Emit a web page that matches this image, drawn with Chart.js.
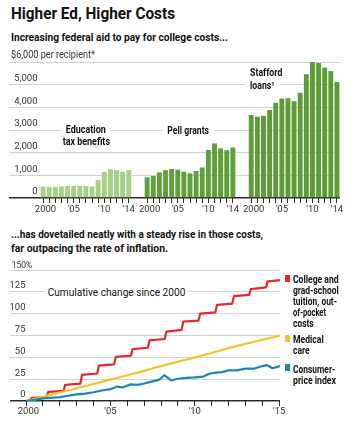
<!DOCTYPE html>
<html><head><meta charset="utf-8">
<title>Higher Ed, Higher Costs</title>
<script src="https://cdn.jsdelivr.net/npm/chart.js@4.4.1/dist/chart.umd.min.js"></script>
<style>
html,body{margin:0;padding:0;background:#fff}
body{width:353px;height:425px;position:relative;overflow:hidden;color:#111;font-family:Roboto,sans-serif}
.t{position:absolute;white-space:nowrap;line-height:1;transform-origin:0 0}
.sw{position:absolute;width:4.5px;height:6.5px}
canvas{position:absolute;left:0}
</style></head><body>
<div class="t" data-x="11" data-b="18.3" data-w="164" style="font:bold 16.5px Roboto">Higher Ed, Higher Costs</div>
<div class="t" data-x="11" data-b="40" data-w="217" style="font:bold 11.5px Roboto">Increasing federal aid to pay for college costs...</div>
<canvas id="aid" width="353" height="170" style="top:50px"></canvas>
<div class="t" data-x="11" data-b="236.7" data-w="252" style="font:bold 11.5px Roboto">...has dovetailed neatly with a steady rise in those costs,</div>
<div class="t" data-x="11" data-b="250.7" data-w="157" style="font:bold 11.5px Roboto">far outpacing the rate of inflation.</div>
<canvas id="costs" width="353" height="170" style="top:255px"></canvas>
<div class="t" data-x="45" data-b="295" data-w="143" style="font:11.5px Roboto;background:#fff;padding:1px 3px">Cumulative change since 2000</div>
<div class="sw" style="left:285px;top:275px;background:#e7262d"></div>
<div class="sw" style="left:285px;top:335px;background:#f3c22f"></div>
<div class="sw" style="left:285px;top:364px;background:#1b87b8"></div>
<div class="t" data-x="292.7" data-b="282.3" data-w="45.6" style="font:bold 10.5px Roboto">College and</div>
<div class="t" data-x="292.7" data-b="293.3" data-w="45.7" style="font:bold 10.5px Roboto">grad-school</div>
<div class="t" data-x="292.7" data-b="304.3" data-w="44" style="font:bold 10.5px Roboto">tuition, out-</div>
<div class="t" data-x="292.7" data-b="315.3" data-w="33" style="font:bold 10.5px Roboto">of-pocket</div>
<div class="t" data-x="292.7" data-b="326.3" data-w="20.7" style="font:bold 10.5px Roboto">costs</div>
<div class="t" data-x="292.7" data-b="342.3" data-w="30.7" style="font:bold 10.5px Roboto">Medical</div>
<div class="t" data-x="292.7" data-b="353.3" data-w="16.7" style="font:bold 10.5px Roboto">care</div>
<div class="t" data-x="292.7" data-b="371.7" data-w="42.3" style="font:bold 10.5px Roboto">Consumer-</div>
<div class="t" data-x="292.7" data-b="382.7" data-w="43" style="font:bold 10.5px Roboto">price index</div>
<script>
// ---------- DATA ----------
const groupYears = [2000,2001,2002,2003,2004,2005,2006,2007,2008,2009,2010,2011,2012,2013,2014];
const eduTaxBenefits = [500,480,490,510,530,540,540,530,510,790,1150,1270,1230,1160,1230];
const pellGrants     = [910,970,1130,1230,1280,1250,1160,1090,1190,1350,2120,2410,2190,2110,2230];
const staffordLoans  = [3660,3590,3620,3880,4200,4390,4400,4270,4640,5460,6000,5960,5760,5600,5120];
const aidTicks = [0,1000,2000,3000,4000,5000,6000];
const barTickYears = [2000,2005,2010,2014];
const barTickText = ['\u20022000',"'05","'10","'14"];

const lineTickYears = [2000,2001,2002,2003,2004,2005,2006,2007,2008,2009,2010,2011,2012,2013,2014,2015];
const lineLabelYears = [2000,2005,2010,2015];
const lineLabelText = ['\u20022000',"'05","'10","'15"];
const pctTicks = [0,25,50,75,100,125,150];

const tuitionT   = [2000,2000.22,2000.32,2001.22,2001.32,2002.22,2002.32,2003.22,2003.32,2004.22,2004.32,2005.22,2005.32,2006.22,2006.32,2007.22,2007.32,2008.22,2008.32,2009.22,2009.32,2010.22,2010.32,2011.22,2011.32,2012.22,2012.32,2013.22,2013.32,2014.22,2014.32,2015.05];
const tuitionPct = [0,0.5,3.5,4.5,10.5,11.5,18.5,20,30,31.5,40.5,42,50.5,52,59.5,61,69.5,71,79.5,81.5,91,92,100,101.5,110,111.5,120,121.5,128,130,137,138.5];
const medicalT   = [2000,2001,2002,2003,2004,2005,2006,2007,2008,2009,2010,2011,2012,2013,2014,2015.05];
const medicalPct = [0,4.8,9.8,14.6,19.5,24.5,29.5,34.5,40,45,50,55,60.5,65.5,70,75];
const cpiT   = [2000,2000.6,2001,2001.6,2002,2002.5,2003,2003.5,2004,2004.5,2005,2005.4,2005.7,2006.2,2006.6,2007,2007.5,2007.9,2008.2,2008.6,2009,2009.5,2010,2010.5,2010.9,2011.3,2011.6,2012,2012.5,2013,2013.5,2014,2014.3,2014.6,2015.05];
const cpiPct = [0,1.5,3,3.8,4.5,6,7.5,8.5,10,12,13.5,16.5,15.5,19,18.5,20,22.5,24.5,29.5,23.5,25.5,26.5,27,28,31.5,32.5,33,35,35,37,37,40,41,37.5,40];
const seriesNames = ['College and grad-school tuition, out-of-pocket costs','Medical care','Consumer-price index'];

// ---------- TEXT FITTING ----------
document.querySelectorAll('.t').forEach(d=>{
  const fs = parseFloat(getComputedStyle(d).fontSize);
  d.style.left = d.dataset.x+'px';
  const padTop = parseFloat(getComputedStyle(d).paddingTop)||0;
  d.style.top = (parseFloat(d.dataset.b) - 0.842*fs - padTop)+'px';
  const w = d.getBoundingClientRect().width;
  d.style.transform = 'scaleX('+(parseFloat(d.dataset.w)/w)+')';
});

Chart.defaults.font.family = 'Roboto';
Chart.defaults.color = '#333';

function fitText(ctx, text, x, y, font, w, align){
  ctx.save();
  ctx.font = font;
  const m = ctx.measureText(text).width;
  const s = w/m;
  ctx.textBaseline = 'alphabetic';
  ctx.textAlign = 'left';
  const left = align==='center' ? x - w/2 : x;
  ctx.translate(left, y);
  ctx.scale(s,1);
  ctx.fillText(text,0,0);
  ctx.restore();
}

// ---------- TOP CHART ----------
const GAP = 2;
const cats = [], catYear = [];
const allSeries = [eduTaxBenefits, pellGrants, staffordLoans];
allSeries.forEach((s,g)=>{
  if(g>0) for(let k=0;k<GAP;k++){cats.push('');catYear.push(null);}
  groupYears.forEach(y=>{cats.push(String(y));catYear.push(y);});
});
function padded(g){
  const out=[];
  allSeries.forEach((s,h)=>{
    if(h>0) for(let k=0;k<GAP;k++) out.push(null);
    groupYears.forEach((y,i)=>out.push(h===g ? s[i] : null));
  });
  return out;
}
const GRID = '#d2d2d2', AXIS = '#2a2a2a';

const aidLabels = {
  id:'aidLabels',
  beforeDatasetsDraw(chart){
    const {ctx, scales:{x,y}} = chart;
    const px = (i,f)=> x.getPixelForValue(i) + (f||0)*(x.getPixelForValue(i+1)-x.getPixelForValue(i));
    const specs = [
      {t:'Education', x:px(7)-0.2, b:y.getPixelForValue(3000)+3.3, w:40, a:'center'},
      {t:'tax benefits', x:px(7)+0.4, b:y.getPixelForValue(3000)+14.6, w:47.3, a:'center'},
      {t:'Pell grants', x:px(23,0.7), b:y.getPixelForValue(3000)+4, w:41.7, a:'center'},
      {t:'Stafford', x:px(34)-1.2, b:y.getPixelForValue(5000)-8.3, w:32.3, a:'left'},
      {t:'loans\u00b9', x:px(34)-1.2, b:y.getPixelForValue(5000)+4, w:24.5, a:'left'}
    ];
    specs.forEach(s=>{
      const left = s.a==='center' ? s.x - s.w/2 : s.x;
      ctx.fillStyle = '#fff';
      ctx.fillRect(left-5, s.b-9.5, s.w+10, 13);
    });
    ctx.fillStyle = '#111';
    specs.forEach(s=> fitText(ctx, s.t, s.x, s.b, 'bold 10.5px Roboto', s.w, s.a));
    // top axis heading
    ctx.fillStyle = '#333';
    fitText(ctx, '$6,000 per recipient*', 11, y.getPixelForValue(6000)-4.5, '10px Roboto', 84, 'left');
  }
};

new Chart(document.getElementById('aid'), {
  type:'bar',
  data:{labels:cats, datasets:[
    {label:'Education tax benefits', data:padded(0), backgroundColor:'#a8cf86', grouped:false, barPercentage:0.8, categoryPercentage:1},
    {label:'Pell grants', data:padded(1), backgroundColor:'#60a03a', grouped:false, barPercentage:0.8, categoryPercentage:1},
    {label:'Stafford loans', data:padded(2), backgroundColor:'#5e9c38', grouped:false, barPercentage:0.8, categoryPercentage:1}
  ]},
  options:{
    responsive:false, animation:false, events:[],
    layout:{padding:{left:8,right:13,top:12,bottom:0}},
    plugins:{legend:{display:false}, tooltip:{enabled:false}},
    scales:{
      x:{
        grid:{offset:false, drawOnChartArea:false, drawTicks:true, tickLength:5,
              color:c=> catYear[c.index]==null ? 'rgba(0,0,0,0)' : AXIS, lineWidth:1},
        border:{display:false},
        ticks:{autoSkip:false, maxRotation:0, minRotation:0, padding:1, font:{size:9.5}, color:'#333',
               callback:(v,i)=>{const k=barTickYears.indexOf(catYear[i]); return k>=0?barTickText[k]:'';}},
        afterFit:s=>{s.height=22;}
      },
      y:{
        min:0, max:6000,
        afterBuildTicks:s=>{s.ticks = aidTicks.map(v=>({value:v}));},
        grid:{tickLength:31, color:c=> c.tick && c.tick.value===0 ? AXIS : GRID,
              lineWidth:c=> c.tick && c.tick.value===0 ? 1.5 : 1},
        border:{display:false},
        ticks:{padding:-28.5, labelOffset:-6, font:{size:9.5}, color:'#333',
               callback:v=> v===6000 ? '' : v.toLocaleString('en-US')},
        afterFit:s=>{s.width=32;}
      }
    }
  },
  plugins:[aidLabels]
});

// ---------- BOTTOM CHART ----------
const pts = (T,V)=>T.map((t,i)=>({x:t,y:V[i]}));
const costLabels = {
  id:'costLabels',
  afterDraw(chart){
    const {ctx, scales:{y}} = chart;
    ctx.fillStyle = '#333';
    fitText(ctx, '150%', 11.7, y.getPixelForValue(150)-2.2, '9.5px Roboto', 20.6, 'left');
  }
};
new Chart(document.getElementById('costs'), {
  type:'line',
  data:{datasets:[
    {label:seriesNames[2], data:pts(cpiT,cpiPct), borderColor:'#1b87b8', borderWidth:2.2},
    {label:seriesNames[1], data:pts(medicalT,medicalPct), borderColor:'#f3c22f', borderWidth:2.2},
    {label:seriesNames[0], data:pts(tuitionT,tuitionPct), borderColor:'#e7262d', borderWidth:2.2}
  ]},
  options:{
    responsive:false, animation:false, events:[],
    layout:{padding:{left:8,right:73,top:15,bottom:0}},
    elements:{point:{radius:0}, line:{tension:0, borderCapStyle:'butt', borderJoinStyle:'round'}},
    plugins:{legend:{display:false}, tooltip:{enabled:false}},
    scales:{
      x:{
        type:'linear', min:2000, max:2015.05,
        afterBuildTicks:s=>{s.ticks = lineTickYears.map(v=>({value:v}));},
        grid:{drawOnChartArea:false, drawTicks:true, tickLength:5, color:AXIS, lineWidth:1},
        border:{display:false},
        ticks:{autoSkip:false, maxRotation:0, minRotation:0, padding:0, font:{size:9.5}, color:'#333',
               callback:v=>{const k=lineLabelYears.indexOf(v); return k>=0?lineLabelText[k]:'';}},
        afterFit:s=>{s.height=24;}
      },
      y:{
        min:0, max:150,
        afterBuildTicks:s=>{s.ticks = pctTicks.map(v=>({value:v}));},
        grid:{tickLength:16, color:c=> c.tick && c.tick.value===0 ? AXIS : GRID,
              lineWidth:c=> c.tick && c.tick.value===0 ? 1.5 : 1},
        border:{display:false},
        ticks:{padding:-15.5, labelOffset:-6, font:{size:9.5}, color:'#333',
               callback:v=> v===150 ? '' : String(v)},
        afterFit:s=>{s.width=18;}
      }
    }
  },
  plugins:[costLabels]
});
</script>
</body></html>
